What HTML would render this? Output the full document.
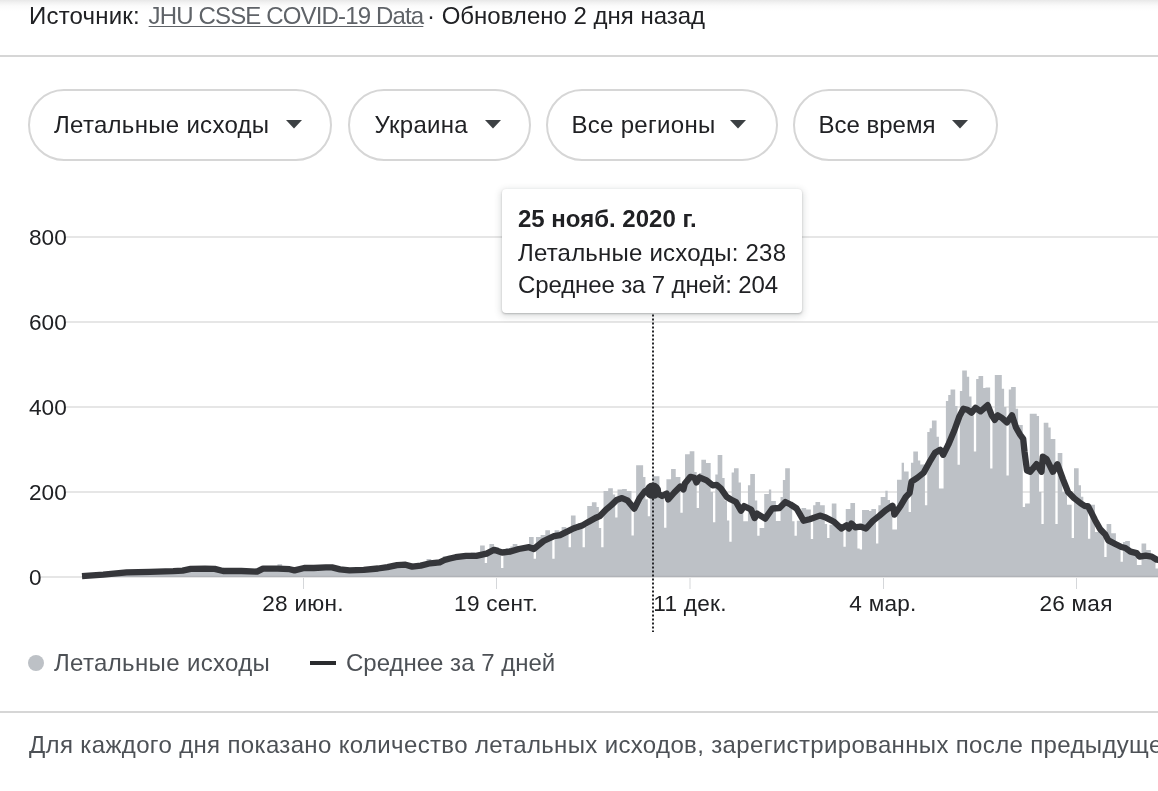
<!DOCTYPE html>
<html><head><meta charset="utf-8">
<style>
*{margin:0;padding:0;box-sizing:border-box}
html,body{width:1158px;height:791px;overflow:hidden;background:#fff;font-family:"Liberation Sans",sans-serif;color:#202124;-webkit-font-smoothing:antialiased}
#topfade{position:absolute;left:0;top:0;width:1158px;height:11px;background:linear-gradient(#e8e8e8 0,#f3f3f3 3px,#fbfbfb 6px,#fff 11px)}
#src{position:absolute;white-space:nowrap;left:29px;top:1px;font-size:24px;line-height:30px}
#src b{font-weight:normal;letter-spacing:0.2px}
#src a{color:#5f6368;text-decoration:underline;letter-spacing:-0.85px;text-underline-offset:1.5px;text-decoration-thickness:1.4px}
.hr{position:absolute;left:0;width:1158px;height:2px;background:#d6d6d6}
.chip{position:absolute;top:89px;height:72px;border:2px solid #d6d6d6;border-radius:36px;font-size:24px;line-height:68px;padding-left:24px;white-space:nowrap;letter-spacing:0.3px}
.chip .ar{position:absolute;top:28.6px;fill:#3c4043}
.yl{position:absolute;left:29px;font-size:22.6px;line-height:22px;color:#202124}
.xl{position:absolute;top:593px;font-size:22.6px;line-height:22px;color:#202124;transform:translateX(-50%);white-space:nowrap;letter-spacing:0.25px}
#tip{position:absolute;left:502px;top:189px;width:300px;height:124px;background:#fff;border-radius:4px;box-shadow:0 1px 2px rgba(60,64,67,.3),0 2px 6px 2px rgba(60,64,67,.15);font-size:24px;line-height:24px;white-space:nowrap}
#tip div{position:absolute;left:16px}
#leg{position:absolute;top:649px;left:0;font-size:24px;color:#4d5156;white-space:nowrap}
#foot{position:absolute;left:29px;top:731px;font-size:24px;color:#4d5156;white-space:nowrap;letter-spacing:0.35px}
svg{position:absolute;left:0;top:0}
</style></head><body>
<div id="topfade"></div>
<div id="wrap" style="position:absolute;left:0;top:0;width:1158px;height:791px;will-change:transform">
<div id="src"><b>Источник:</b> <a style="margin-left:2px">JHU CSSE COVID-19 Data</a><span style="margin-left:-3px"> · Обновлено</span> 2 дня назад</div>
<div class="hr" style="top:55px"></div>
<div class="chip" style="left:28px;width:304px">Летальные исходы<svg class="ar" style="left:256px" width="16" height="9" viewBox="0 0 16 9"><path d="M0 0H16L8 8.5Z"/></svg></div>
<div class="chip" style="left:347.5px;width:183px;padding-left:25px">Украина<svg class="ar" style="left:135px" width="16" height="9" viewBox="0 0 16 9"><path d="M0 0H16L8 8.5Z"/></svg></div>
<div class="chip" style="left:545.5px;width:232px">Все регионы<svg class="ar" style="left:182.5px" width="16" height="9" viewBox="0 0 16 9"><path d="M0 0H16L8 8.5Z"/></svg></div>
<div class="chip" style="left:792.5px;width:205px;letter-spacing:0">Все время<svg class="ar" style="left:157.7px" width="16" height="9" viewBox="0 0 16 9"><path d="M0 0H16L8 8.5Z"/></svg></div>

<svg width="1158" height="791" viewBox="0 0 1158 791">
<g fill="#e6e6e6">
<rect x="66" y="236" width="1092" height="2"/>
<rect x="66" y="321" width="1092" height="2"/>
<rect x="66" y="406" width="1092" height="2"/>
<rect x="66" y="491" width="1092" height="2"/>
<rect x="41" y="576" width="1117" height="2"/>
</g>
<g fill="#d5d7da">
<rect x="303" y="578" width="1" height="11"/>
<rect x="496" y="578" width="1" height="11"/>
<rect x="689.5" y="578" width="1" height="11"/>
<rect x="883" y="578" width="1" height="11"/>
<rect x="1076" y="578" width="1" height="11"/>
</g>
<path fill="#bdc1c6" d="M81.84 577.0V576.3H84.16V577.0ZM84.16 577.0V576.1H86.49V577.0ZM86.49 577.0V576.0H88.82V577.0ZM88.82 577.0V575.8H91.15V577.0ZM91.15 577.0V575.7H93.48V577.0ZM93.48 577.0V575.7H95.81V577.0ZM95.81 577.0V575.6H98.14V577.0ZM98.14 577.0V575.2H100.47V577.0ZM100.47 577.0V575.2H102.80V577.0ZM102.80 577.0V575.1H105.13V577.0ZM105.13 577.0V574.6H107.45V577.0ZM107.45 577.0V574.6H109.78V577.0ZM109.78 577.0V574.3H112.11V577.0ZM112.11 577.0V574.2H114.44V577.0ZM114.44 577.0V573.9H116.77V577.0ZM116.77 577.0V574.0H119.10V577.0ZM119.10 577.0V573.5H121.43V577.0ZM121.43 577.0V573.2H123.76V577.0ZM123.76 577.0V573.2H126.09V577.0ZM126.09 577.0V572.8H128.42V577.0ZM128.42 577.0V572.8H130.74V577.0ZM130.74 577.0V573.2H133.07V577.0ZM133.07 577.0V572.7H135.40V577.0ZM135.40 577.0V572.7H137.73V577.0ZM137.73 577.0V572.9H140.06V577.0ZM140.06 577.0V573.0H142.39V577.0ZM142.39 577.0V572.4H144.72V577.0ZM144.72 577.0V572.6H147.05V577.0ZM147.05 577.0V572.4H149.38V577.0ZM149.38 577.0V572.2H151.71V577.0ZM151.71 577.0V572.3H154.03V577.0ZM154.03 577.0V572.0H156.36V577.0ZM156.36 577.0V572.4H158.69V577.0ZM158.69 577.0V572.0H161.02V577.0ZM161.02 577.0V572.3H163.35V577.0ZM163.35 577.0V571.8H165.68V577.0ZM165.68 577.0V571.8H168.01V577.0ZM168.01 577.0V572.4H170.34V577.0ZM170.34 577.0V572.3H172.67V577.0ZM172.67 577.0V572.2H175.00V577.0ZM175.00 577.0V571.4H177.32V577.0ZM177.32 577.0V571.8H179.65V577.0ZM179.65 577.0V571.5H181.98V577.0ZM181.98 577.0V571.6H184.31V577.0ZM184.31 577.0V571.1H186.64V577.0ZM186.64 577.0V570.8H188.97V577.0ZM188.97 577.0V570.4H191.30V577.0ZM191.30 577.0V569.8H193.63V577.0ZM193.63 577.0V569.8H195.96V577.0ZM195.96 577.0V569.3H198.29V577.0ZM198.29 577.0V569.5H200.61V577.0ZM200.61 577.0V569.2H202.94V577.0ZM202.94 577.0V569.2H205.27V577.0ZM205.27 577.0V569.0H207.60V577.0ZM207.60 577.0V569.5H209.93V577.0ZM209.93 577.0V570.2H212.26V577.0ZM212.26 577.0V569.4H214.59V577.0ZM214.59 577.0V569.4H216.92V577.0ZM216.92 577.0V570.0H219.25V577.0ZM219.25 577.0V570.9H221.58V577.0ZM221.58 577.0V571.3H223.90V577.0ZM223.90 577.0V572.0H226.23V577.0ZM226.23 577.0V571.5H228.56V577.0ZM228.56 577.0V571.7H230.89V577.0ZM230.89 577.0V571.9H233.22V577.0ZM233.22 577.0V572.1H235.55V577.0ZM235.55 577.0V571.4H237.88V577.0ZM237.88 577.0V571.3H240.21V577.0ZM240.21 577.0V572.1H242.54V577.0ZM242.54 577.0V571.5H244.87V577.0ZM244.87 577.0V572.0H247.19V577.0ZM247.19 577.0V572.3H249.52V577.0ZM249.52 577.0V572.2H251.85V577.0ZM251.85 577.0V571.9H254.18V577.0ZM254.18 577.0V571.9H256.51V577.0ZM256.51 577.0V572.6H258.84V577.0ZM258.84 577.0V571.3H261.17V577.0ZM261.17 577.0V570.9H263.50V577.0ZM263.50 577.0V569.4H265.83V577.0ZM265.83 577.0V569.9H268.16V577.0ZM268.16 577.0V569.2H270.48V577.0ZM270.48 577.0V569.0H272.81V577.0ZM272.81 577.0V569.6H275.14V577.0ZM275.14 577.0V569.0H277.47V577.0ZM277.47 577.0V564.2H279.80V577.0ZM279.80 577.0V564.2H282.13V577.0ZM282.13 577.0V570.1H284.46V577.0ZM284.46 577.0V570.5H286.79V577.0ZM286.79 577.0V569.9H289.12V577.0ZM289.12 577.0V570.7H291.45V577.0ZM291.45 577.0V570.9H293.77V577.0ZM293.77 577.0V571.2H296.10V577.0ZM296.10 577.0V570.7H298.43V577.0ZM298.43 577.0V570.7H300.76V577.0ZM300.76 577.0V570.4H303.09V577.0ZM303.09 577.0V568.8H305.42V577.0ZM305.42 577.0V569.4H307.75V577.0ZM307.75 577.0V568.5H310.08V577.0ZM310.08 577.0V568.6H312.41V577.0ZM312.41 577.0V569.3H314.74V577.0ZM314.74 577.0V569.1H317.06V577.0ZM317.06 577.0V568.9H319.39V577.0ZM319.39 577.0V568.7H321.72V577.0ZM321.72 577.0V568.6H324.05V577.0ZM324.05 577.0V568.6H326.38V577.0ZM326.38 577.0V568.4H328.71V577.0ZM328.71 577.0V568.0H331.04V577.0ZM331.04 577.0V568.6H333.37V577.0ZM333.37 577.0V569.0H335.70V577.0ZM335.70 577.0V569.2H338.03V577.0ZM338.03 577.0V570.3H340.35V577.0ZM340.35 577.0V570.6H342.68V577.0ZM342.68 577.0V570.1H345.01V577.0ZM345.01 577.0V570.8H347.34V577.0ZM347.34 577.0V571.0H349.67V577.0ZM349.67 577.0V571.7H352.00V577.0ZM352.00 577.0V571.2H354.33V577.0ZM354.33 577.0V571.0H356.66V577.0ZM356.66 577.0V571.5H358.99V577.0ZM358.99 577.0V570.8H361.32V577.0ZM361.32 577.0V570.7H363.64V577.0ZM363.64 577.0V571.2H365.97V577.0ZM365.97 577.0V570.4H368.30V577.0ZM368.30 577.0V570.4H370.63V577.0ZM370.63 577.0V570.0H372.96V577.0ZM372.96 577.0V570.2H375.29V577.0ZM375.29 577.0V569.5H377.62V577.0ZM377.62 577.0V569.3H379.95V577.0ZM379.95 577.0V569.9H382.28V577.0ZM382.28 577.0V569.6H384.61V577.0ZM384.61 577.0V568.4H386.93V577.0ZM386.93 577.0V567.7H389.26V577.0ZM389.26 577.0V568.4H391.59V577.0ZM391.59 577.0V567.7H393.92V577.0ZM393.92 577.0V567.0H396.25V577.0ZM396.25 577.0V567.1H398.58V577.0ZM398.58 577.0V566.8H400.91V577.0ZM400.91 577.0V566.8H403.24V577.0ZM403.24 577.0V566.6H405.57V577.0ZM405.57 577.0V566.1H407.90V577.0ZM407.90 577.0V567.2H410.22V577.0ZM410.22 577.0V567.6H412.55V577.0ZM412.55 577.0V567.4H414.88V577.0ZM414.88 577.0V568.4H417.21V577.0ZM417.21 577.0V567.3H419.54V577.0ZM419.54 577.0V566.7H421.87V577.0ZM421.87 577.0V567.1H424.20V577.0ZM424.20 577.0V566.8H426.53V577.0ZM426.53 577.0V559.1H428.86V577.0ZM428.86 577.0V559.1H431.19V577.0ZM431.19 577.0V564.3H433.51V577.0ZM433.51 577.0V565.2H435.84V577.0ZM435.84 577.0V565.2H438.17V577.0ZM438.17 577.0V564.4H440.50V577.0ZM440.50 577.0V562.1H442.83V577.0ZM442.83 577.0V556.2H445.16V577.0ZM445.16 577.0V556.2H447.49V577.0ZM447.49 577.0V555.8H449.82V577.0ZM449.82 577.0V560.3H452.15V577.0ZM452.15 577.0V559.8H454.48V577.0ZM454.48 577.0V559.3H456.80V577.0ZM456.80 577.0V558.9H459.13V577.0ZM459.13 577.0V558.6H461.46V577.0ZM461.46 577.0V558.2H463.79V577.0ZM463.79 577.0V557.9H466.12V577.0ZM466.12 577.0V557.7H468.45V577.0ZM468.45 577.0V557.7H470.78V577.0ZM470.78 577.0V552.5H473.11V577.0ZM473.11 577.0V552.5H475.44V577.0ZM475.44 577.0V557.7H477.77V577.0ZM477.77 577.0V557.3H480.09V577.0ZM480.09 577.0V545.5H482.42V577.0ZM482.42 577.0V545.5H484.75V577.0ZM484.75 577.0V563.0H487.08V577.0ZM487.08 577.0V555.3H489.41V577.0ZM489.41 577.0V544.0H491.74V577.0ZM491.74 577.0V544.0H494.07V577.0ZM494.07 577.0V547.0H496.40V577.0ZM496.40 577.0V547.0H498.73V577.0ZM498.73 577.0V553.5H501.06V577.0ZM501.06 577.0V568.1H503.38V577.0ZM503.38 577.0V554.3H505.71V577.0ZM505.71 577.0V548.1H508.04V577.0ZM508.04 577.0V548.1H510.37V577.0ZM510.37 577.0V546.4H512.70V577.0ZM512.70 577.0V544.0H515.03V577.0ZM515.03 577.0V544.0H517.36V577.0ZM517.36 577.0V551.4H519.69V577.0ZM519.69 577.0V550.9H522.02V577.0ZM522.02 577.0V550.5H524.35V577.0ZM524.35 577.0V550.1H526.67V577.0ZM526.67 577.0V549.8H529.00V577.0ZM529.00 577.0V537.0H531.33V577.0ZM531.33 577.0V537.0H533.66V577.0ZM533.66 577.0V558.7H535.99V577.0ZM535.99 577.0V537.0H538.32V577.0ZM538.32 577.0V537.0H540.65V577.0ZM540.65 577.0V534.9H542.98V577.0ZM542.98 577.0V534.9H545.31V577.0ZM545.31 577.0V530.2H547.64V577.0ZM547.64 577.0V530.2H549.96V577.0ZM549.96 577.0V534.5H552.29V577.0ZM552.29 577.0V558.7H554.62V577.0ZM554.62 577.0V530.2H556.95V577.0ZM556.95 577.0V530.2H559.28V577.0ZM559.28 577.0V537.8H561.61V577.0ZM561.61 577.0V526.9H563.94V577.0ZM563.94 577.0V526.9H566.27V577.0ZM566.27 577.0V534.6H568.60V577.0ZM568.60 577.0V547.2H570.93V577.0ZM570.93 577.0V515.4H573.25V577.0ZM573.25 577.0V515.4H575.58V577.0ZM575.58 577.0V530.5H577.91V577.0ZM577.91 577.0V523.0H580.24V577.0ZM580.24 577.0V523.0H582.57V577.0ZM582.57 577.0V547.2H584.90V577.0ZM584.90 577.0V526.7H587.23V577.0ZM587.23 577.0V506.0H589.56V577.0ZM589.56 577.0V506.0H591.89V577.0ZM591.89 577.0V502.2H594.22V577.0ZM594.22 577.0V502.2H596.54V577.0ZM596.54 577.0V506.9H598.87V577.0ZM598.87 577.0V528.1H601.20V577.0ZM601.20 577.0V547.2H603.53V577.0ZM603.53 577.0V491.1H605.86V577.0ZM605.86 577.0V491.1H608.19V577.0ZM608.19 577.0V488.2H610.52V577.0ZM610.52 577.0V488.2H612.85V577.0ZM612.85 577.0V494.6H615.18V577.0ZM615.18 577.0V517.5H617.51V577.0ZM617.51 577.0V489.4H619.83V577.0ZM619.83 577.0V489.4H622.16V577.0ZM622.16 577.0V489.0H624.49V577.0ZM624.49 577.0V489.0H626.82V577.0ZM626.82 577.0V491.1H629.15V577.0ZM629.15 577.0V491.1H631.48V577.0ZM631.48 577.0V535.4H633.81V577.0ZM633.81 577.0V511.7H636.14V577.0ZM636.14 577.0V465.2H638.47V577.0ZM638.47 577.0V465.2H640.80V577.0ZM640.80 577.0V465.2H643.12V577.0ZM643.12 577.0V477.1H645.45V577.0ZM645.45 577.0V499.2H647.78V577.0ZM647.78 577.0V516.2H650.11V577.0ZM650.11 577.0V498.4H652.44V577.0ZM652.44 577.0V476.3H654.77V577.0ZM654.77 577.0V476.3H657.10V577.0ZM657.10 577.0V476.3H659.43V577.0ZM659.43 577.0V498.4H661.76V577.0ZM661.76 577.0V498.4H664.09V577.0ZM664.09 577.0V527.7H666.41V577.0ZM666.41 577.0V479.2H668.74V577.0ZM668.74 577.0V479.2H671.07V577.0ZM671.07 577.0V469.1H673.40V577.0ZM673.40 577.0V469.1H675.73V577.0ZM675.73 577.0V477.1H678.06V577.0ZM678.06 577.0V477.1H680.39V577.0ZM680.39 577.0V512.8H682.72V577.0ZM682.72 577.0V492.0H685.05V577.0ZM685.05 577.0V454.2H687.38V577.0ZM687.38 577.0V454.2H689.70V577.0ZM689.70 577.0V451.2H692.03V577.0ZM692.03 577.0V451.2H694.36V577.0ZM694.36 577.0V472.0H696.69V577.0ZM696.69 577.0V508.1H699.02V577.0ZM699.02 577.0V472.9H701.35V577.0ZM701.35 577.0V459.7H703.68V577.0ZM703.68 577.0V459.7H706.01V577.0ZM706.01 577.0V463.1H708.34V577.0ZM708.34 577.0V463.1H710.67V577.0ZM710.67 577.0V492.0H712.99V577.0ZM712.99 577.0V522.2H715.32V577.0ZM715.32 577.0V474.6H717.65V577.0ZM717.65 577.0V455.0H719.98V577.0ZM719.98 577.0V455.0H722.31V577.0ZM722.31 577.0V478.0H724.64V577.0ZM724.64 577.0V500.5H726.97V577.0ZM726.97 577.0V520.5H729.30V577.0ZM729.30 577.0V541.7H731.63V577.0ZM731.63 577.0V472.4H733.96V577.0ZM733.96 577.0V468.2H736.28V577.0ZM736.28 577.0V468.2H738.61V577.0ZM738.61 577.0V482.6H740.94V577.0ZM740.94 577.0V512.8H743.27V577.0ZM743.27 577.0V521.3H745.60V577.0ZM745.60 577.0V521.3H747.93V577.0ZM747.93 577.0V485.2H750.26V577.0ZM750.26 577.0V474.1H752.59V577.0ZM752.59 577.0V474.1H754.92V577.0ZM754.92 577.0V500.5H757.25V577.0ZM757.25 577.0V535.8H759.57V577.0ZM759.57 577.0V528.1H761.90V577.0ZM761.90 577.0V528.1H764.23V577.0ZM764.23 577.0V493.9H766.56V577.0ZM766.56 577.0V493.9H768.89V577.0ZM768.89 577.0V489.4H771.22V577.0ZM771.22 577.0V500.9H773.55V577.0ZM773.55 577.0V500.9H775.88V577.0ZM775.88 577.0V520.9H778.21V577.0ZM778.21 577.0V520.9H780.54V577.0ZM780.54 577.0V497.1H782.86V577.0ZM782.86 577.0V480.1H785.19V577.0ZM785.19 577.0V468.2H787.52V577.0ZM787.52 577.0V468.2H789.85V577.0ZM789.85 577.0V507.7H792.18V577.0ZM792.18 577.0V521.3H794.51V577.0ZM794.51 577.0V535.8H796.84V577.0ZM796.84 577.0V520.7H799.17V577.0ZM799.17 577.0V520.7H801.50V577.0ZM801.50 577.0V508.1H803.83V577.0ZM803.83 577.0V508.1H806.15V577.0ZM806.15 577.0V509.5H808.48V577.0ZM808.48 577.0V509.5H810.81V577.0ZM810.81 577.0V538.9H813.14V577.0ZM813.14 577.0V505.2H815.47V577.0ZM815.47 577.0V502.0H817.80V577.0ZM817.80 577.0V502.0H820.13V577.0ZM820.13 577.0V505.2H822.46V577.0ZM822.46 577.0V505.2H824.79V577.0ZM824.79 577.0V523.9H827.12V577.0ZM827.12 577.0V537.9H829.44V577.0ZM829.44 577.0V524.7H831.77V577.0ZM831.77 577.0V503.5H834.10V577.0ZM834.10 577.0V503.5H836.43V577.0ZM836.43 577.0V527.3H838.76V577.0ZM838.76 577.0V530.8H841.09V577.0ZM841.09 577.0V530.8H843.42V577.0ZM843.42 577.0V546.8H845.75V577.0ZM845.75 577.0V509.0H848.08V577.0ZM848.08 577.0V509.0H850.41V577.0ZM850.41 577.0V503.1H852.73V577.0ZM852.73 577.0V503.1H855.06V577.0ZM855.06 577.0V529.0H857.39V577.0ZM857.39 577.0V548.5H859.72V577.0ZM859.72 577.0V549.4H862.05V577.0ZM862.05 577.0V510.0H864.38V577.0ZM864.38 577.0V510.0H866.71V577.0ZM866.71 577.0V510.0H869.04V577.0ZM869.04 577.0V511.1H871.37V577.0ZM871.37 577.0V509.0H873.70V577.0ZM873.70 577.0V509.0H876.02V577.0ZM876.02 577.0V543.4H878.35V577.0ZM878.35 577.0V505.2H880.68V577.0ZM880.68 577.0V497.1H883.01V577.0ZM883.01 577.0V497.1H885.34V577.0ZM885.34 577.0V490.7H887.67V577.0ZM887.67 577.0V500.1H890.00V577.0ZM890.00 577.0V513.2H892.33V577.0ZM892.33 577.0V529.4H894.66V577.0ZM894.66 577.0V529.4H896.99V577.0ZM896.99 577.0V479.7H899.31V577.0ZM899.31 577.0V479.7H901.64V577.0ZM901.64 577.0V462.7H903.97V577.0ZM903.97 577.0V471.6H906.30V577.0ZM906.30 577.0V471.6H908.63V577.0ZM908.63 577.0V512.0H910.96V577.0ZM910.96 577.0V462.7H913.29V577.0ZM913.29 577.0V451.6H915.62V577.0ZM915.62 577.0V451.6H917.95V577.0ZM917.95 577.0V460.6H920.28V577.0ZM920.28 577.0V464.4H922.60V577.0ZM922.60 577.0V464.4H924.93V577.0ZM924.93 577.0V505.2H927.26V577.0ZM927.26 577.0V432.1H929.59V577.0ZM929.59 577.0V428.2H931.92V577.0ZM931.92 577.0V420.6H934.25V577.0ZM934.25 577.0V420.6H936.58V577.0ZM936.58 577.0V436.8H938.91V577.0ZM938.91 577.0V488.6H941.24V577.0ZM941.24 577.0V488.6H943.57V577.0ZM943.57 577.0V453.8H945.89V577.0ZM945.89 577.0V401.1H948.22V577.0ZM948.22 577.0V395.1H950.55V577.0ZM950.55 577.0V389.6H952.88V577.0ZM952.88 577.0V389.6H955.21V577.0ZM955.21 577.0V406.1H957.54V577.0ZM957.54 577.0V464.8H959.87V577.0ZM959.87 577.0V390.9H962.20V577.0ZM962.20 577.0V370.5H964.53V577.0ZM964.53 577.0V370.5H966.86V577.0ZM966.86 577.0V376.8H969.18V577.0ZM969.18 577.0V396.4H971.51V577.0ZM971.51 577.0V415.5H973.84V577.0ZM973.84 577.0V451.6H976.17V577.0ZM976.17 577.0V379.0H978.50V577.0ZM978.50 577.0V376.0H980.83V577.0ZM980.83 577.0V376.0H983.16V577.0ZM983.16 577.0V387.9H985.49V577.0ZM985.49 577.0V387.5H987.82V577.0ZM987.82 577.0V387.5H990.15V577.0ZM990.15 577.0V468.6H992.47V577.0ZM992.47 577.0V415.5H994.80V577.0ZM994.80 577.0V375.1H997.13V577.0ZM997.13 577.0V375.1H999.46V577.0ZM999.46 577.0V375.1H1001.79V577.0ZM1001.79 577.0V388.7H1004.12V577.0ZM1004.12 577.0V407.0H1006.45V577.0ZM1006.45 577.0V475.4H1008.78V577.0ZM1008.78 577.0V389.6H1011.11V577.0ZM1011.11 577.0V387.0H1013.44V577.0ZM1013.44 577.0V387.0H1015.76V577.0ZM1015.76 577.0V408.7H1018.09V577.0ZM1018.09 577.0V424.9H1020.42V577.0ZM1020.42 577.0V424.9H1022.75V577.0ZM1022.75 577.0V506.9H1025.08V577.0ZM1025.08 577.0V503.5H1027.41V577.0ZM1027.41 577.0V503.5H1029.74V577.0ZM1029.74 577.0V413.8H1032.07V577.0ZM1032.07 577.0V413.8H1034.40V577.0ZM1034.40 577.0V413.8H1036.73V577.0ZM1036.73 577.0V415.9H1039.05V577.0ZM1039.05 577.0V492.0H1041.38V577.0ZM1041.38 577.0V523.9H1043.71V577.0ZM1043.71 577.0V422.7H1046.04V577.0ZM1046.04 577.0V422.7H1048.37V577.0ZM1048.37 577.0V427.4H1050.70V577.0ZM1050.70 577.0V438.9H1053.03V577.0ZM1053.03 577.0V438.9H1055.36V577.0ZM1055.36 577.0V523.9H1057.69V577.0ZM1057.69 577.0V452.9H1060.02V577.0ZM1060.02 577.0V452.9H1062.34V577.0ZM1062.34 577.0V492.0H1064.67V577.0ZM1064.67 577.0V492.0H1067.00V577.0ZM1067.00 577.0V504.8H1069.33V577.0ZM1069.33 577.0V504.8H1071.66V577.0ZM1071.66 577.0V537.9H1073.99V577.0ZM1073.99 577.0V468.2H1076.32V577.0ZM1076.32 577.0V468.2H1078.65V577.0ZM1078.65 577.0V485.2H1080.98V577.0ZM1080.98 577.0V496.7H1083.31V577.0ZM1083.31 577.0V506.9H1085.63V577.0ZM1085.63 577.0V506.9H1087.96V577.0ZM1087.96 577.0V538.8H1090.29V577.0ZM1090.29 577.0V504.8H1092.62V577.0ZM1092.62 577.0V504.8H1094.95V577.0ZM1094.95 577.0V532.0H1097.28V577.0ZM1097.28 577.0V532.0H1099.61V577.0ZM1099.61 577.0V532.0H1101.94V577.0ZM1101.94 577.0V532.0H1104.27V577.0ZM1104.27 577.0V557.0H1106.60V577.0ZM1106.60 577.0V523.9H1108.92V577.0ZM1108.92 577.0V523.9H1111.25V577.0ZM1111.25 577.0V533.2H1113.58V577.0ZM1113.58 577.0V533.2H1115.91V577.0ZM1115.91 577.0V548.1H1118.24V577.0ZM1118.24 577.0V548.1H1120.57V577.0ZM1120.57 577.0V561.7H1122.90V577.0ZM1122.90 577.0V542.1H1125.23V577.0ZM1125.23 577.0V541.1H1127.56V577.0ZM1127.56 577.0V541.1H1129.89V577.0ZM1129.89 577.0V554.9H1132.21V577.0ZM1132.21 577.0V554.9H1134.54V577.0ZM1134.54 577.0V554.9H1136.87V577.0ZM1136.87 577.0V565.1H1139.20V577.0ZM1139.20 577.0V565.1H1141.53V577.0ZM1141.53 577.0V543.4H1143.86V577.0ZM1143.86 577.0V543.4H1146.19V577.0ZM1146.19 577.0V550.0H1148.52V577.0ZM1148.52 577.0V550.0H1150.85V577.0ZM1150.85 577.0V559.3H1153.18V577.0ZM1153.18 577.0V559.3H1155.50V577.0ZM1155.50 577.0V568.5H1157.83V577.0ZM1157.83 577.0V568.5H1160.16V577.0ZM1160.16 577.0V568.5H1162.49V577.0ZM1162.49 577.0V568.5H1164.82V577.0ZM1164.82 577.0V562.9H1167.15V577.0ZM1167.15 577.0V563.4H1169.48V577.0ZM1169.48 577.0V563.8H1171.81V577.0ZM1171.81 577.0V563.8H1174.14V577.0ZM1174.14 577.0V563.8H1176.47V577.0Z"/>
<rect x="82" y="575.8" width="1076" height="1" fill="#adb0b5"/>
<path fill="none" stroke="#35363a" stroke-width="6.3" stroke-linejoin="round" d="M82.00 576.2 L103.30 574.7 L126.60 572.4 L149.90 571.8 L173.20 571.2 L182.60 570.6 L190.70 568.9 L205.00 568.6 L214.70 568.9 L223.10 571.0 L241.30 571.0 L257.00 571.6 L263.00 568.6 L277.60 568.6 L289.60 569.2 L294.50 570.4 L304.20 568.0 L313.80 568.0 L325.90 567.4 L332.00 567.4 L340.00 569.4 L349.50 570.4 L363.70 569.9 L378.00 568.5 L387.50 567.1 L397.00 565.2 L405.50 564.7 L412.20 566.6 L420.70 565.6 L430.20 563.3 L439.70 562.3 L444.50 560.0 L450.00 558.5 L455.50 557.2 L466.00 555.8 L476.30 555.8 L486.60 553.6 L494.00 549.8 L502.00 552.5 L510.50 551.5 L518.80 549.0 L529.00 547.2 L533.80 549.0 L543.60 541.0 L554.00 536.2 L560.00 535.2 L567.10 531.7 L573.30 528.5 L582.10 525.6 L588.30 521.9 L595.40 518.0 L599.80 516.2 L606.00 509.6 L611.30 505.2 L616.60 499.9 L622.00 498.1 L627.30 500.3 L634.30 508.7 L639.60 498.1 L645.00 491.1 L650.00 490.4 L656.10 492.5 L662.10 496.0 L666.70 493.5 L668.20 499.5 L674.30 492.5 L680.30 486.5 L683.40 489.4 L684.90 483.5 L690.40 476.8 L694.50 477.8 L696.50 482.4 L699.50 477.3 L706.60 480.3 L712.70 485.4 L716.70 484.9 L720.80 488.4 L726.80 497.0 L730.90 499.5 L736.00 502.0 L741.00 510.7 L744.00 506.1 L751.10 509.5 L754.60 518.1 L757.10 513.6 L765.20 518.6 L772.30 508.5 L779.40 508.0 L785.40 502.0 L790.50 504.5 L796.60 508.5 L803.60 520.7 L809.70 519.2 L819.80 515.6 L825.90 517.6 L834.00 521.7 L841.30 528.5 L846.40 525.3 L848.90 528.5 L851.40 523.5 L855.20 527.3 L860.30 526.6 L866.00 528.5 L872.90 520.9 L879.20 515.9 L885.60 510.3 L892.50 505.7 L894.40 514.6 L900.70 505.7 L905.80 496.9 L909.60 493.1 L911.50 481.7 L917.20 477.9 L923.50 472.9 L929.40 462.2 L935.10 452.7 L940.20 449.7 L943.20 454.8 L948.30 444.7 L954.30 430.5 L959.40 416.4 L963.40 408.8 L967.50 409.8 L971.50 412.8 L975.60 407.8 L980.60 411.3 L987.70 405.2 L991.70 415.3 L994.80 419.9 L997.80 415.3 L1001.80 417.9 L1006.90 422.4 L1012.00 415.3 L1016.00 427.5 L1020.00 434.5 L1023.20 438.9 L1024.50 451.6 L1027.00 470.6 L1030.20 471.8 L1036.50 464.2 L1041.50 471.8 L1042.80 456.7 L1046.60 459.2 L1052.90 471.8 L1057.40 464.2 L1063.00 479.4 L1068.10 492.1 L1074.40 498.4 L1080.70 503.4 L1085.00 506.1 L1088.00 506.1 L1091.10 512.1 L1095.10 520.2 L1100.20 529.3 L1105.20 534.4 L1108.30 540.4 L1115.30 544.0 L1121.40 547.0 L1125.40 548.0 L1130.50 551.6 L1136.60 553.1 L1139.60 556.6 L1145.70 555.6 L1151.70 556.6 L1156.80 559.7 L1170.00 562.1"/>
<line x1="653" y1="314.5" x2="653" y2="632" stroke="#26272a" stroke-width="2" stroke-dasharray="2 2"/>
<circle cx="652.8" cy="490.8" r="8.3" fill="#35363a"/>
</svg>

<div class="yl" style="top:227px">800</div>
<div class="yl" style="top:312px">600</div>
<div class="yl" style="top:397px">400</div>
<div class="yl" style="top:482px">200</div>
<div class="yl" style="top:567px">0</div>

<div class="xl" style="left:303px">28 июн.</div>
<div class="xl" style="left:496px">19 сент.</div>
<div class="xl" style="left:690px">11 дек.</div>
<div class="xl" style="left:883px">4 мар.</div>
<div class="xl" style="left:1076px">26 мая</div>

<div id="tip">
<div style="top:18px;font-weight:bold">25 нояб. 2020 г.</div>
<div style="top:52px;letter-spacing:0.2px">Летальные исходы: 238</div>
<div style="top:84px;letter-spacing:-0.12px">Среднее за 7 дней: 204</div>
</div>

<div id="leg"><span style="position:absolute;left:28px;top:6px;width:16px;height:16px;border-radius:50%;background:#bdc1c6"></span><span style="position:absolute;left:54px;letter-spacing:0.35px">Летальные исходы</span><span style="position:absolute;left:310px;top:12px;width:26px;height:4px;background:#2a2b2e"></span><span style="position:absolute;left:346px;letter-spacing:0px">Среднее за 7 дней</span></div>
<div class="hr" style="top:711px"></div>
<div id="foot">Для каждого дня показано количество летальных исходов, зарегистрированных после предыдущего отчета</div>
</div>
</body></html>
